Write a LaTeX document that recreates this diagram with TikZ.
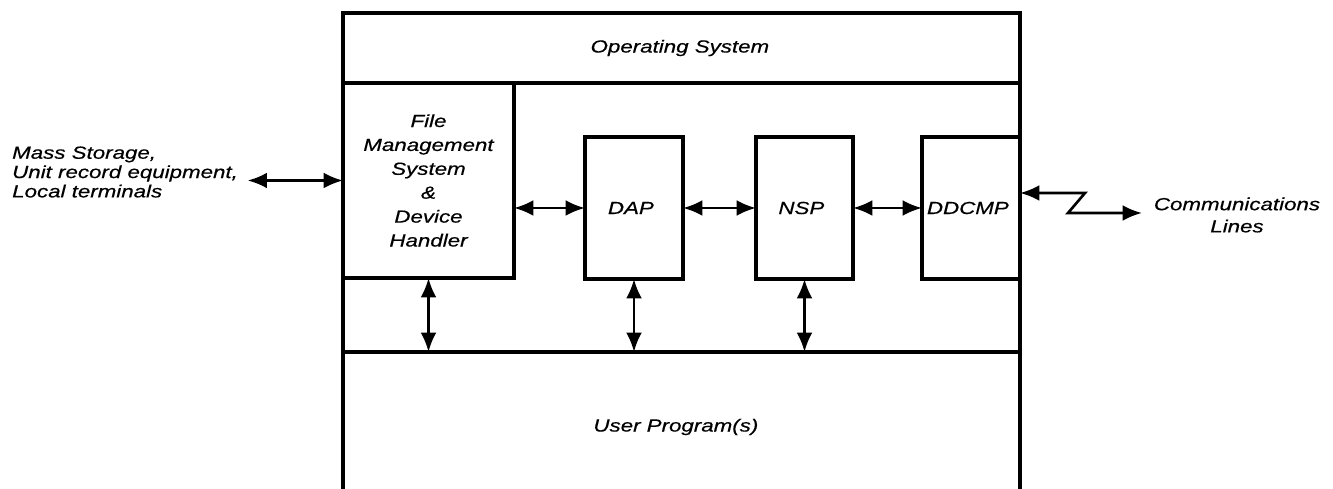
\documentclass[tikz,border=0pt]{standalone}
\usepackage{fontspec}
\setmainfont{Liberation Sans}[FakeStretch=1.27, FakeBold=0.5]
\usetikzlibrary{arrows.meta}

\tikzset{
    label/.style={font=\itshape\fontsize{10}{13.6}\selectfont, align=center},
    layer/.style={draw, line width=1.8pt, inner sep=0pt, outer sep=0pt},
    link/.style={{Latex[length=11pt,width=9pt]}-{Latex[length=11pt,width=9pt]}, line width=1.5pt}
}

\begin{document}
\begin{tikzpicture}[x=0.02cm, y=-0.02cm]
    \useasboundingbox (0, 0) rectangle (1333, 489);

    % the machine: open at the bottom
    \draw[line width=1.8pt] (343, 489) -- (343, 13) -- (1020, 13) -- (1020, 489);
    \coordinate (osl) at (343, 83);
    \coordinate (osr) at (1020, 83);
    \coordinate (busl) at (343, 352);
    \coordinate (busr) at (1020, 352);
    \draw[line width=1.8pt] (osl) -- (osr);
    \draw[line width=1.8pt] (busl) -- (busr);

    \node[label] (os) at (683, 48) {
        Operating System
    };
    \node[label] (user) at (679, 427) {
        User Program(s)
    };

    \node[layer, label, minimum width=171*0.02cm, minimum height=195*0.02cm] (fms) at (428.5, 180.5) {
        File\\ Management\\ System\\ \&\\ Device\\ Handler
    };
    \node[layer, label, minimum width=98*0.02cm, minimum height=142*0.02cm] (dap) at (634, 208) {
        DAP
    };
    \node[layer, label, minimum width=97*0.02cm, minimum height=142*0.02cm] (nsp) at (804.5, 208) {
        NSP
    };
    \node[layer, label, minimum width=98*0.02cm, minimum height=142*0.02cm] (ddcmp) at (971, 208) {
        DDCMP
    };

    \node[label, font=\itshape\fontsize{10}{11}\selectfont, align=left, anchor=west] (mass) at (6, 172) {
        Mass Storage,\\ Unit record equipment,\\ Local terminals
    };
    \node[label, font=\itshape\fontsize{10}{12.6}\selectfont] (comm) at (1237, 215) {
        Communications\\ Lines
    };

    % connections
    \draw[link] ([xshift=2pt]mass.east |- fms.west) -- (fms.west);
    \draw[link] (fms.east |- dap.west) -- (dap.west);
    \draw[link] (dap.east) -- (nsp.west);
    \draw[link] (nsp.east) -- (ddcmp.west);
    \draw[link] (fms.south) -- (fms.south |- busl);
    \draw[link] (dap.south) -- (dap.south |- busl);
    \draw[link] (nsp.south) -- (nsp.south |- busl);

    % line to the outside world
    \coordinate (zz1) at (1085, 193);
    \coordinate (zz2) at (1068, 213);
    \coordinate (zz3) at (1142, 213);
    \draw[link] (ddcmp.east |- zz1) -- (zz1) -- (zz2) -- (zz3);
\end{tikzpicture}
\end{document}
